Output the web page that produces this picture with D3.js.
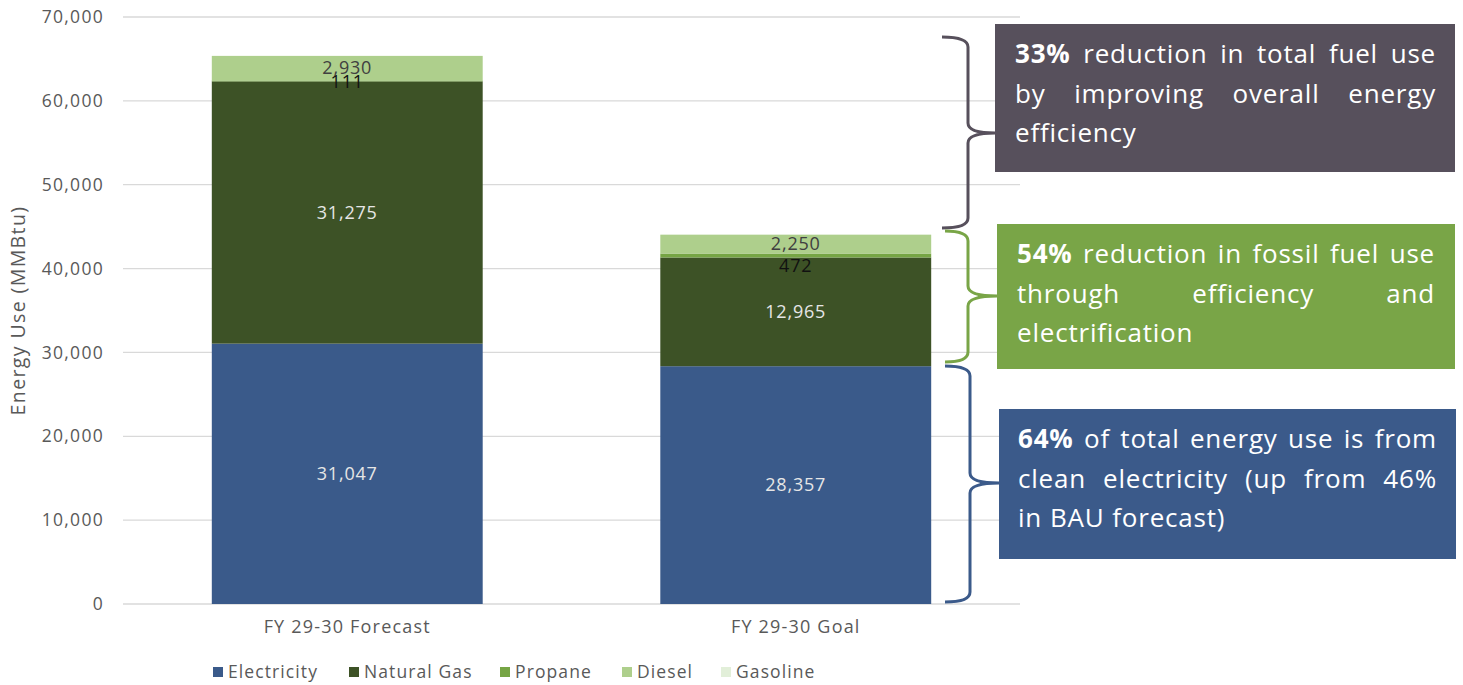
<!DOCTYPE html>
<html lang="en">
<head>
<meta charset="utf-8">
<title>Energy Use FY 29-30</title>
<script src="https://cdn.jsdelivr.net/npm/d3@7"></script>
<style>
  body { margin: 0; background: #fff; }
  svg text { font-family: "Open Sans", sans-serif; }
</style>
</head>
<body>
<svg id="chart" width="1463" height="685"></svg>
<script>
// data
var categories = ["FY 29-30 Forecast", "FY 29-30 Goal"];
var fuels = ["Electricity", "Natural Gas", "Propane", "Diesel", "Gasoline"];
var electricity = [31047, 28357];
var naturalGas = [31275, 12965];
var propane = [111, 472];
var diesel = [2930, 2250];
var gasoline = [0, 0];
var yTicks = [0, 10000, 20000, 30000, 40000, 50000, 60000, 70000];

var colors = ["#3a5a8a", "#3d5226", "#76a545", "#aecf8c", "#e2efd9"];
var labelColors = ["#e6e6e6", "#e6e6e6", "#111111", "#404040", "#404040"];

var notes = [
  { bold: "33%", lines: ["reduction in total fuel use", "by improving overall energy", "efficiency"], fill: "#57505c" },
  { bold: "54%", lines: ["reduction in fossil fuel use", "through efficiency and", "electrification"], fill: "#79a547" },
  { bold: "64%", lines: ["of total energy use is from", "clean electricity (up from 46%", "in BAU forecast)"], fill: "#3b5a8a" }
];

var rows = categories.map(function(c, i) {
  return { cat: c, "Electricity": electricity[i], "Natural Gas": naturalGas[i],
           "Propane": propane[i], "Diesel": diesel[i], "Gasoline": gasoline[i] };
});

var svg = d3.select("#chart");
var plotL = 123, plotR = 1020, plotT = 17, plotB = 604;

var x = d3.scaleBand().domain(categories).range([plotL, plotR]).paddingInner(0.396).paddingOuter(0.198);
var y = d3.scaleLinear().domain([0, 70000]).range([plotB, plotT]);

// grid
svg.append("g").selectAll("line").data(yTicks).enter().append("line")
  .attr("x1", plotL).attr("x2", plotR)
  .attr("y1", function(d) { return y(d); }).attr("y2", function(d) { return y(d); })
  .attr("stroke", "#d9d9d9").attr("stroke-width", 1.3);

// y axis labels
var yAxis = svg.append("g").attr("transform", "translate(" + plotL + ",0)")
  .call(d3.axisLeft(y).tickValues(yTicks).tickSize(0).tickPadding(19).tickFormat(d3.format(",")));
yAxis.select(".domain").remove();
yAxis.selectAll("text").attr("font-size", 17.5).attr("fill", "#595959").style("font-family", "Open Sans").attr("letter-spacing", 1.3);

svg.append("text")
  .attr("transform", "translate(25," + ((plotT + plotB) / 2) + ") rotate(-90)")
  .attr("text-anchor", "middle").attr("font-size", 19.5).attr("fill", "#595959")
  .attr("letter-spacing", 1.4)
  .text("Energy Use (MMBtu)");

// x axis labels
var xAxis = svg.append("g").attr("transform", "translate(0," + plotB + ")")
  .call(d3.axisBottom(x).tickSize(0).tickPadding(16));
xAxis.select(".domain").remove();
xAxis.selectAll("text").attr("font-size", 18).attr("fill", "#595959").style("font-family", "Open Sans").attr("letter-spacing", 1.2);

// stacked bars
var stack = d3.stack().keys(fuels);
var series = stack(rows);

var layers = svg.append("g").selectAll("g").data(series).enter().append("g")
  .attr("fill", function(d, i) { return colors[i]; });

layers.selectAll("rect").data(function(d) { return d; }).enter().append("rect")
  .attr("x", function(d) { return x(d.data.cat); })
  .attr("width", x.bandwidth())
  .attr("y", function(d) { return y(d[1]); })
  .attr("height", function(d) { return y(d[0]) - y(d[1]); });

// value labels
series.forEach(function(s, k) {
  svg.append("g").selectAll("text").data(s.filter(function(d) { return d[1] - d[0] > 0; }))
    .enter().append("text")
    .attr("x", function(d) { return x(d.data.cat) + x.bandwidth() / 2; })
    .attr("y", function(d, i) {
      var mid = (y(d[0]) + y(d[1])) / 2;
      if (k === 2) mid += (i === 1 ? 10 : 1);
      return mid;
    })
    .attr("dy", "0.35em")
    .attr("text-anchor", "middle")
    .attr("font-size", 18)
    .attr("letter-spacing", 0.8)
    .attr("fill", labelColors[k])
    .text(function(d) { return d3.format(",")(d[1] - d[0]); });
});

// legend
var legendX = [213, 349, 500, 622, 721];
var legend = svg.append("g").selectAll("g").data(fuels).enter().append("g")
  .attr("transform", function(d, i) { return "translate(" + legendX[i] + ",672)"; });
legend.append("rect").attr("x", 0).attr("y", -5).attr("width", 10).attr("height", 10)
  .attr("fill", function(d, i) { return colors[i]; });
legend.append("text").attr("x", 15).attr("dy", "0.35em").attr("font-size", 17.5)
  .attr("fill", "#595959").attr("letter-spacing", 1.1).text(function(d) { return d; });

// braces
function brace(x0, xm, xt, y0, y1, yt) {
  var r = 10;
  return "M" + x0 + "," + y0 +
    " Q" + xm + "," + y0 + " " + xm + "," + (y0 + r) +
    " L" + xm + "," + (yt - r) +
    " Q" + xm + "," + yt + " " + xt + "," + yt +
    " Q" + xm + "," + yt + " " + xm + "," + (yt + r) +
    " L" + xm + "," + (y1 - r) +
    " Q" + xm + "," + y1 + " " + x0 + "," + y1;
}
var braces = [
  [942, 968, 995, 37, 228, 133],
  [945, 968, 997, 231, 362, 296],
  [945, 970, 999, 366, 602, 483]
];
braces.forEach(function(b, i) {
  svg.append("path").attr("d", brace.apply(null, b))
    .attr("fill", "none").attr("stroke", notes[i].fill).attr("stroke-width", 3);
});

// annotation boxes
var boxes = [
  { x: 995, y: 24, w: 460, h: 148, tx: 1015, tw: 421 },
  { x: 997, y: 224, w: 458, h: 145, tx: 1017, tw: 418 },
  { x: 999, y: 409, w: 457, h: 150, tx: 1018, tw: 419 }
];
var fs = 26, lh = 39.5;
boxes.forEach(function(b, i) {
  var n = notes[i];
  var g = svg.append("g");
  g.append("rect").attr("x", b.x).attr("y", b.y).attr("width", b.w).attr("height", b.h).attr("fill", n.fill);
  n.lines.forEach(function(line, li) {
    var words = line.split(" ");
    if (li === 0) words.unshift(n.bold);
    var baseY = b.y + 39 + li * lh;
    var nodes = words.map(function(w, wi) {
      return g.append("text").attr("y", baseY).attr("font-size", fs).attr("fill", "#fff")
        .attr("font-weight", (li === 0 && wi === 0) ? 700 : 400)
        .attr("letter-spacing", 0.8)
        .text(w);
    });
    var widths = nodes.map(function(t) { return t.node().getComputedTextLength(); });
    var total = d3.sum(widths);
    var last = li === n.lines.length - 1;
    var gap = (!last && words.length > 1) ? (b.tw - total) / (words.length - 1) : fs * 0.3;
    var cx = b.tx;
    nodes.forEach(function(t, wi) {
      t.attr("x", cx);
      cx += widths[wi] + gap;
    });
  });
});
</script>
</body>
</html>
